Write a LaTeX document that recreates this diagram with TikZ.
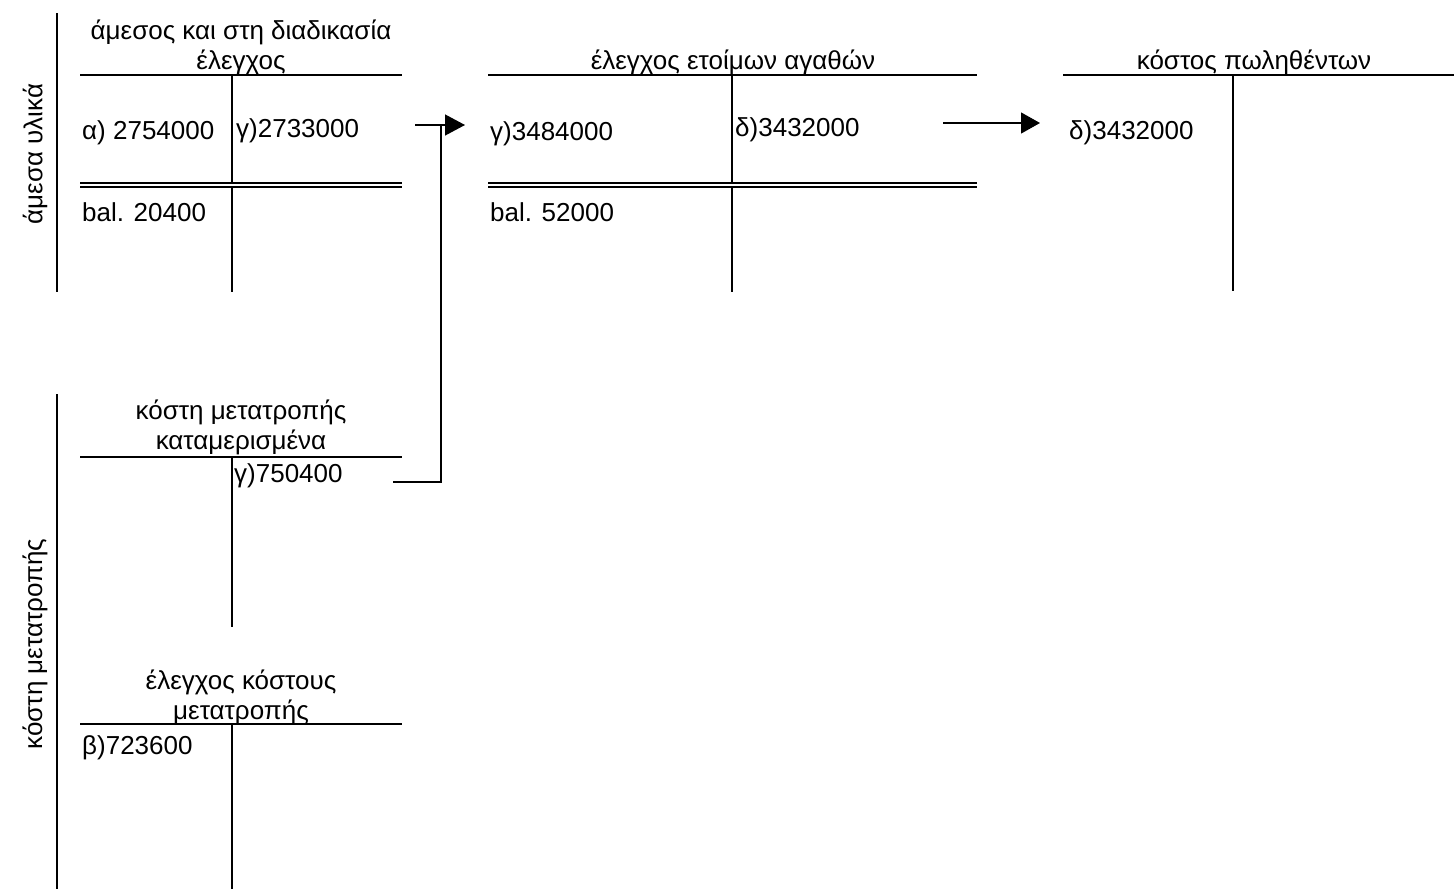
\documentclass[tikz,border=0pt]{standalone}
\usepackage{fontspec}
\setmainfont{Liberation Sans}
\usetikzlibrary{arrows.meta}
\begin{document}
\begin{tikzpicture}[x=1pt, y=-1pt,
    tline/.style={line width=2pt},
    dline/.style={line width=1.5pt},
    flow/.style={line width=1.3pt},
    amount/.style={anchor=west, inner sep=0pt, font=\fontsize{26}{30}\selectfont},
    acctitle/.style={align=center, inner sep=0pt, font=\fontsize{26}{30}\selectfont},
    side/.style={rotate=90, inner sep=0pt, font=\fontsize{26}{30}\selectfont}]
    \useasboundingbox (0,0) rectangle (1454,889);

    % side brackets
    \draw[tline] (57,13) -- (57,292);
    \node[side] (direct) at (35,154) {άμεσα υλικά};
    \draw[tline] (57,394) -- (57,889);
    \node[side] (conv) at (35,644) {κόστη μετατροπής};

    % work in process account
    \node[acctitle] (wip) at (241,47) {άμεσος και στη διαδικασία\\έλεγχος};
    \draw[tline] (80,75) -- (402,75);
    \draw[tline] (232,75) -- (232,183);
    \draw[dline] (80,183) -- (402,183);
    \draw[dline] (80,187) -- (402,187);
    \draw[tline] (232,187) -- (232,292);
    \node[amount] (wipa) at (82,133) {α) 2754000};
    \node[amount] (wipc) at (236,131) {γ)2733000};
    \node[amount] (wipbal) at (82,212) {bal. 20400};

    % finished goods account
    \node[acctitle] (fg) at (733,62) {έλεγχος ετοίμων αγαθών};
    \draw[tline] (488,75) -- (977,75);
    \draw[tline] (732,75) -- (732,183);
    \draw[dline] (488,183) -- (977,183);
    \draw[dline] (488,187) -- (977,187);
    \draw[tline] (732,187) -- (732,292);
    \node[amount] (fgc) at (490,134) {γ)3484000};
    \node[amount] (fgd) at (735,130) {δ)3432000};
    \node[amount] (fgbal) at (490,212) {bal. 52000};

    % cost of goods sold account
    \node[acctitle] (cogs) at (1254,62) {κόστος πωληθέντων};
    \draw[tline] (1063,75) -- (1454,75);
    \draw[tline] (1233,75) -- (1233,291);
    \node[amount] (cogsd) at (1069,133) {δ)3432000};

    % applied conversion costs account
    \node[acctitle] (applied) at (241,427) {κόστη μετατροπής\\καταμερισμένα};
    \draw[tline] (80,457) -- (402,457);
    \draw[tline] (232,457) -- (232,627);
    \node[amount] (appliedc) at (234,476) {γ)750400};

    % conversion cost control account
    \node[acctitle] (control) at (241,697) {έλεγχος κόστους\\μετατροπής};
    \draw[tline] (80,724) -- (402,724);
    \draw[tline] (232,724) -- (232,889);
    \node[amount] (controlb) at (82,748) {β)723600};

    % transfers
    \coordinate (wipout) at (415,125);
    \coordinate (join) at (441,125);
    \coordinate (fgin) at (465,125);
    \coordinate (appout) at (393,482);
    \coordinate (fgout) at (943,123);
    \coordinate (cogsin) at (1040,123);
    \draw[flow, -{Triangle[length=20pt, width=21pt]}] (wipout) -- (fgin);
    \draw[flow] (appout) -| (join);
    \draw[flow, -{Triangle[length=19pt, width=21pt]}] (fgout) -- (cogsin);
\end{tikzpicture}
\end{document}
